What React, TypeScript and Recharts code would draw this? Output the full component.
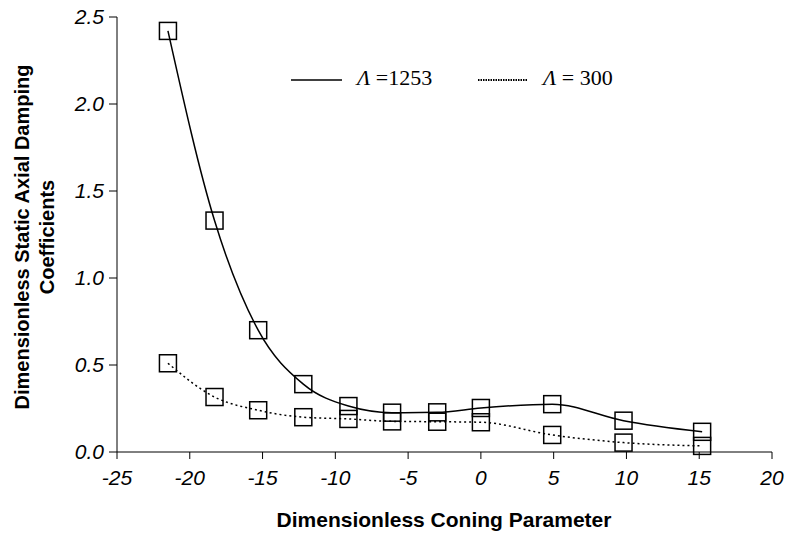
import { LineChart, Line, XAxis, YAxis, Label } from "recharts"

const coning = [-21.5, -18.3, -15.3, -12.2, -9.1, -6.1, -3.0, 0, 4.9, 9.8, 15.2]
const lambda1253 = [2.42, 1.33, 0.7, 0.39, 0.264, 0.226, 0.228, 0.253, 0.275, 0.18, 0.116]
const lambda300 = [0.51, 0.316, 0.24, 0.2, 0.19, 0.176, 0.174, 0.171, 0.098, 0.054, 0.035]
const xTicks = [-25, -20, -15, -10, -5, 0, 5, 10, 15, 20]
const yTicks = [0, 0.5, 1, 1.5, 2, 2.5]

const data = coning.map((x, i) => ({ x, a: lambda1253[i], b: lambda300[i] }))

const sans = "Liberation Sans, Arial, sans-serif"
const serif = "Liberation Serif, Times New Roman, serif"

const SquareDot = (props: any) => {
  const { cx, cy, key } = props
  if (cx == null || cy == null) return <g key={key} />
  return (
    <rect key={key} x={cx - 8.5} y={cy - 8.5} width={17} height={17} fill="none" stroke="#000" strokeWidth={1.5} />
  )
}

const XTick = ({ x, y, payload }: any) => (
  <text x={x} y={y + 24} textAnchor="middle" fontSize={21} fontStyle="italic" fontFamily={sans} fill="#000">
    {payload.value}
  </text>
)

const YTick = ({ x, y, payload }: any) => (
  <text x={x - 3} y={y + 7} textAnchor="end" fontSize={21} fontStyle="italic" fontFamily={sans} fill="#000">
    {Number(payload.value).toFixed(1)}
  </text>
)

const LegendBox = () => (
  <div style={{ position: "absolute", left: 285, top: 64, width: 360, height: 34, fontFamily: serif, fontSize: 22 }}>
    <svg width={360} height={34} style={{ position: "absolute", left: 0, top: 0 }}>
      <line x1={6} y1={16} x2={57} y2={16} stroke="#000" strokeWidth={1.5} />
      <line x1={193} y1={16} x2={243} y2={16} stroke="#000" strokeWidth={2} strokeDasharray="1.5 1" />
    </svg>
    <span style={{ position: "absolute", left: 72, top: 1 }}>
      <i>Λ</i> =1253
    </span>
    <span style={{ position: "absolute", left: 258, top: 1 }}>
      <i>Λ</i> = 300
    </span>
  </div>
)

export default function App() {
  return (
    <div style={{ position: "absolute", left: 0, top: 0, width: 790, height: 535, background: "#fff" }}>
      <LineChart width={790} height={535} data={data} margin={{ top: 17, right: 18, left: 0, bottom: 0 }}>
        <XAxis
          dataKey="x"
          type="number"
          domain={[-25, 20]}
          ticks={xTicks}
          tick={<XTick />}
          tickSize={7}
          height={83}
          stroke="#000"
        >
          <Label
            content={() => (
              <text x={444} y={527} textAnchor="middle" fontSize={21} fontWeight="bold" fontFamily={sans} fill="#000">
                Dimensionless Coning Parameter
              </text>
            )}
          />
        </XAxis>
        <YAxis
          type="number"
          domain={[0, 2.5]}
          ticks={yTicks}
          tick={<YTick />}
          tickSize={8}
          width={117}
          stroke="#000"
        >
          <Label
            content={() => (
              <text
                transform="translate(29,237) rotate(-90)"
                textAnchor="middle"
                fontSize={20}
                fontWeight="bold"
                fontFamily={sans}
                fill="#000"
              >
                <tspan x={0} dy={0}>Dimensionless Static Axial Damping</tspan>
                <tspan x={0} dy={25}>Coefficients</tspan>
              </text>
            )}
          />
        </YAxis>
        <Line
          dataKey="a"
          name="Λ =1253"
          type="monotone"
          stroke="#000"
          strokeWidth={1.5}
          dot={SquareDot}
          activeDot={false}
          isAnimationActive={false}
        />
        <Line
          dataKey="b"
          name="Λ = 300"
          type="monotone"
          stroke="#000"
          strokeWidth={1.5}
          strokeDasharray="2 3"
          dot={SquareDot}
          activeDot={false}
          isAnimationActive={false}
        />
      </LineChart>
      <LegendBox />
    </div>
  )
}
